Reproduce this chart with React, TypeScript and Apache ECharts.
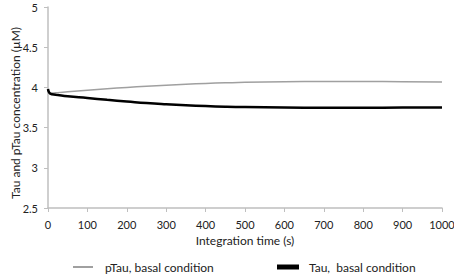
import React, { useEffect, useRef } from "react";
import * as echarts from "echarts";

const timeS = [0, 2, 5, 10, 25, 50, 100, 150, 200, 250, 300, 350, 400, 450, 500, 600, 700, 800, 900, 1000];
const pTauBasal = [3.98, 3.95, 3.935, 3.93, 3.935, 3.945, 3.965, 3.984, 4.0, 4.015, 4.028, 4.04, 4.05, 4.057, 4.063, 4.07, 4.073, 4.073, 4.071, 4.068];
const tauBasal = [3.98, 3.945, 3.925, 3.915, 3.905, 3.89, 3.868, 3.845, 3.825, 3.805, 3.79, 3.778, 3.768, 3.76, 3.755, 3.75, 3.748, 3.748, 3.749, 3.75];
const seriesNames = ["pTau, basal condition", "Tau,  basal condition"];
const xTitle = "Integration time (s)";
const yTitle = "Tau and pTau concentration (µM)";

const FONT = "Lato";

export default function App() {
  const ref = useRef<HTMLDivElement>(null);
  useEffect(() => {
    if (!ref.current) return;
    const chart = echarts.init(ref.current, undefined, { renderer: "svg" });
    const axisColor = "#bfbfbf";
    const textStyle = { color: "#222", fontFamily: FONT, fontSize: 12 };
    const tickText = { color: "#222", fontFamily: FONT, fontSize: 11 };
    chart.setOption({
      animation: false,
      backgroundColor: "#fff",
      grid: { left: 48, right: 12, top: 7, bottom: 66, containLabel: false, outerBoundsMode: "none" },
      graphic: [
        {
          type: "text",
          x: 15,
          y: 113,
          rotation: Math.PI / 2,
          style: {
            text: yTitle,
            x: 0,
            y: 0,
            align: "center",
            verticalAlign: "middle",
            fill: "#222",
            fontFamily: FONT,
            fontSize: 12,
          },
        },
      ],
      xAxis: {
        type: "value",
        min: 0,
        max: 1000,
        interval: 100,
        name: xTitle,
        nameLocation: "middle",
        nameGap: 26,
        nameTextStyle: textStyle,
        axisLine: { lineStyle: { color: axisColor, width: 1.5 } },
        axisTick: { show: true, inside: false, length: 4, lineStyle: { color: axisColor } },
        axisLabel: { ...tickText, margin: 11, formatter: (v: number) => String(v) },
        splitLine: { show: false },
      },
      yAxis: {
        type: "value",
        min: 2.5,
        max: 5,
        interval: 0.5,
        axisLine: { show: true, lineStyle: { color: axisColor, width: 1.5 } },
        axisTick: { show: true, inside: false, length: 4, lineStyle: { color: axisColor } },
        axisLabel: { ...tickText, margin: 10, formatter: (v: number) => String(v) },
        splitLine: { show: false },
      },
      legend: [
        {
          data: [{ name: seriesNames[0], icon: "rect" }],
          left: 73,
          top: 261,
          itemWidth: 20,
          itemHeight: 2,
          textStyle: { ...textStyle, padding: [0, 0, 0, 7] },
          padding: 0,
        },
        {
          data: [{ name: seriesNames[1], icon: "rect" }],
          left: 277,
          top: 261,
          itemWidth: 22,
          itemHeight: 5,
          textStyle: { ...textStyle, padding: [0, 0, 0, 5] },
          padding: 0,
        },
      ],
      series: [
        {
          name: seriesNames[0],
          type: "line",
          data: timeS.map((t, i) => [t, pTauBasal[i]]),
          showSymbol: false,
          smooth: true,
          lineStyle: { color: "#a0a0a0", width: 1.5 },
          itemStyle: { color: "#a0a0a0" },
        },
        {
          name: seriesNames[1],
          type: "line",
          data: timeS.map((t, i) => [t, tauBasal[i]]),
          showSymbol: false,
          smooth: true,
          lineStyle: { color: "#000", width: 2.5 },
          itemStyle: { color: "#000" },
        },
      ],
    });
    return () => chart.dispose();
  }, []);
  return <div ref={ref} style={{ width: 454, height: 274, position: "absolute", left: 0, top: 0 }} />;
}
